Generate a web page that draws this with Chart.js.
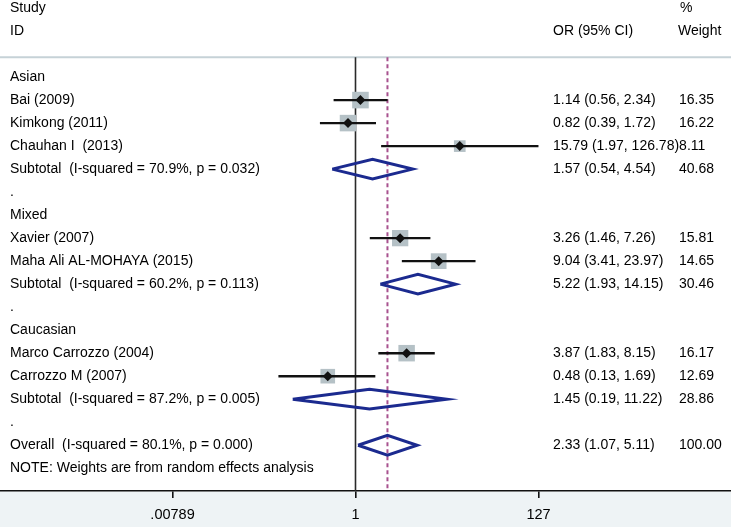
<!DOCTYPE html>
<html>
<head>
<meta charset="utf-8">
<script src="https://cdn.jsdelivr.net/npm/chart.js@4.4.1/dist/chart.umd.min.js"></script>
<style>
  html, body { margin: 0; padding: 0; background: #fff; }
  #wrap { width: 731px; height: 527px; position: relative; }
</style>
</head>
<body>
<div id="wrap"><canvas id="forest"></canvas></div>
<script>
// rows of the forest plot, top to bottom
const rowLabels = [
    "Asian", "Bai (2009)", "Kimkong (2011)", "Chauhan I  (2013)",
    "Subtotal  (I-squared = 70.9%, p = 0.032)", ".",
    "Mixed", "Xavier (2007)", "Maha Ali AL-MOHAYA (2015)",
    "Subtotal  (I-squared = 60.2%, p = 0.113)", ".",
    "Caucasian", "Marco Carrozzo (2004)", "Carrozzo M (2007)",
    "Subtotal  (I-squared = 87.2%, p = 0.005)", ".",
    "Overall  (I-squared = 80.1%, p = 0.000)",
    "NOTE: Weights are from random effects analysis"
];
const rowType = [
    "group", "study", "study", "study", "sub", "gap",
    "group", "study", "study", "sub", "gap",
    "group", "study", "study", "sub", "gap",
    "overall", "note"
];
const oddsRatio = [null, 1.14, 0.82, 15.79, 1.57, null, null, 3.26, 9.04, 5.22, null, null, 3.87, 0.48, 1.45, null, 2.33, null];
const ciLow     = [null, 0.56, 0.39, 1.97, 0.54, null, null, 1.46, 3.41, 1.93, null, null, 1.83, 0.13, 0.19, null, 1.07, null];
const ciHigh    = [null, 2.34, 1.72, 126.78, 4.54, null, null, 7.26, 23.97, 14.15, null, null, 8.15, 1.69, 11.22, null, 5.11, null];
const weights   = [null, 16.35, 16.22, 8.11, 40.68, null, null, 15.81, 14.65, 30.46, null, null, 16.17, 12.69, 28.86, null, 100.00, null];

const xTicks = [0.00789, 1, 127];
const xTickLabels = [".00789", "1", "127"];
const overallOR = 2.33;

// scale limits (log x, row index y)
const xMin = Math.pow(10, -355.5 / 87);
const xMax = Math.pow(10, (731 - 355.5) / 87);
const yTop = -3.35, yBottom = 17.99, sepRow = -0.867;

const fontFamily = "'Liberation Sans', Arial, sans-serif";
const font = "14px " + fontFamily;
const textColor = "#000";

const datasets = [];

// null line and overall dashed line
datasets.push({
    data: [{x: 1, y: sepRow}, {x: 1, y: yBottom}],
    showLine: true, borderColor: "#2a2a2a", borderWidth: 1.6, pointRadius: 0, order: 10
});
datasets.push({
    data: [{x: overallOR, y: sepRow}, {x: overallOR, y: yBottom}],
    showLine: true, borderColor: "#a8528f", borderWidth: 2, borderDash: [4, 3], pointRadius: 0, order: 9
});

// weight boxes
const boxPts = [], boxRadius = [];
rowType.forEach(function (t, i) {
    if (t === "study") {
        boxPts.push({x: oddsRatio[i], y: i});
        boxRadius.push(4.1 * Math.sqrt(weights[i]) / Math.SQRT2);
    }
});
datasets.push({
    data: boxPts, pointStyle: "rect", pointRadius: boxRadius,
    backgroundColor: "#b5c1c6", borderColor: "#b5c1c6", borderWidth: 0, order: 5
});

// confidence interval lines
rowType.forEach(function (t, i) {
    if (t === "study") {
        datasets.push({
            data: [{x: ciLow[i], y: i}, {x: ciHigh[i], y: i}],
            showLine: true, borderColor: "#111", borderWidth: 2.4, pointRadius: 0, order: 3
        });
    }
});

// point estimates
datasets.push({
    data: boxPts.map(function (p) { return {x: p.x, y: p.y}; }),
    pointStyle: "rectRot", pointRadius: 5, backgroundColor: "#111", borderColor: "#111", borderWidth: 0, order: 1
});

// subtotal / overall diamonds
const dh = 0.43;
rowType.forEach(function (t, i) {
    if (t === "sub" || t === "overall") {
        datasets.push({
            data: [
                {x: ciLow[i], y: i}, {x: oddsRatio[i], y: i - dh},
                {x: ciHigh[i], y: i}, {x: oddsRatio[i], y: i + dh},
                {x: ciLow[i], y: i}
            ],
            showLine: true, borderColor: "#1b2a8f", borderWidth: 3, pointRadius: 0,
            borderJoinStyle: "miter", order: 2
        });
    }
});

const paperPlugin = {
    id: "paper",
    beforeDraw: function (chart) {
        const ctx = chart.ctx, area = chart.chartArea;
        ctx.save();
        ctx.fillStyle = "#eef3f5";
        ctx.fillRect(0, area.bottom, chart.width, chart.height - area.bottom);
        // separator under the header
        const ySep = chart.scales.y.getPixelForValue(sepRow);
        ctx.strokeStyle = "#c6d2d7";
        ctx.lineWidth = 2;
        ctx.beginPath();
        ctx.moveTo(0, ySep);
        ctx.lineTo(chart.width, ySep);
        ctx.stroke();
        ctx.restore();
    },
    afterDatasetsDraw: function (chart) {
        const ctx = chart.ctx, y = chart.scales.y;
        ctx.save();
        ctx.font = font;
        ctx.fillStyle = textColor;
        ctx.textBaseline = "middle";
        ctx.fillText("Study", 10, y.getPixelForValue(-3));
        ctx.fillText("ID", 10, y.getPixelForValue(-2));
        ctx.fillText("OR (95% CI)", 553, y.getPixelForValue(-2));
        ctx.fillText("%", 680, y.getPixelForValue(-3));
        ctx.fillText("Weight", 678, y.getPixelForValue(-2));
        rowLabels.forEach(function (lab, i) {
            const py = y.getPixelForValue(i);
            ctx.fillText(lab, 10, py);
            if (oddsRatio[i] !== null) {
                const txt = oddsRatio[i].toFixed(2) + " (" + ciLow[i].toFixed(2) + ", " + ciHigh[i].toFixed(2) + ")";
                ctx.fillText(txt, 553, py);
                const w = ctx.measureText(txt).width;
                ctx.fillText(weights[i].toFixed(2), Math.max(679, 553 + w), py);
            }
        });
        ctx.restore();
    }
};

new Chart(document.getElementById("forest"), {
    type: "scatter",
    data: { datasets: datasets },
    options: {
        responsive: true,
        maintainAspectRatio: false,
        animation: false,
        layout: { padding: 0, autoPadding: false },
        plugins: { legend: { display: false }, tooltip: { enabled: false } },
        scales: {
            x: {
                type: "logarithmic",
                position: "bottom",
                min: xMin,
                max: xMax,
                afterBuildTicks: function (scale) {
                    scale.ticks = xTicks.map(function (v) { return {value: v}; });
                },
                afterFit: function (scale) { scale.height = 36; },
                ticks: {
                    autoSkip: false, maxRotation: 0, padding: 8,
                    color: textColor,
                    font: { family: fontFamily, size: 14.5 },
                    callback: function (v, idx) { return xTickLabels[idx]; }
                },
                grid: { drawOnChartArea: false, drawTicks: true, tickLength: 7, color: "#111", lineWidth: 1.6 },
                border: { display: true, color: "#111", width: 1.6 }
            },
            y: { display: false, reverse: true, min: yTop, max: yBottom }
        }
    },
    plugins: [paperPlugin]
});
</script>
</body>
</html>
